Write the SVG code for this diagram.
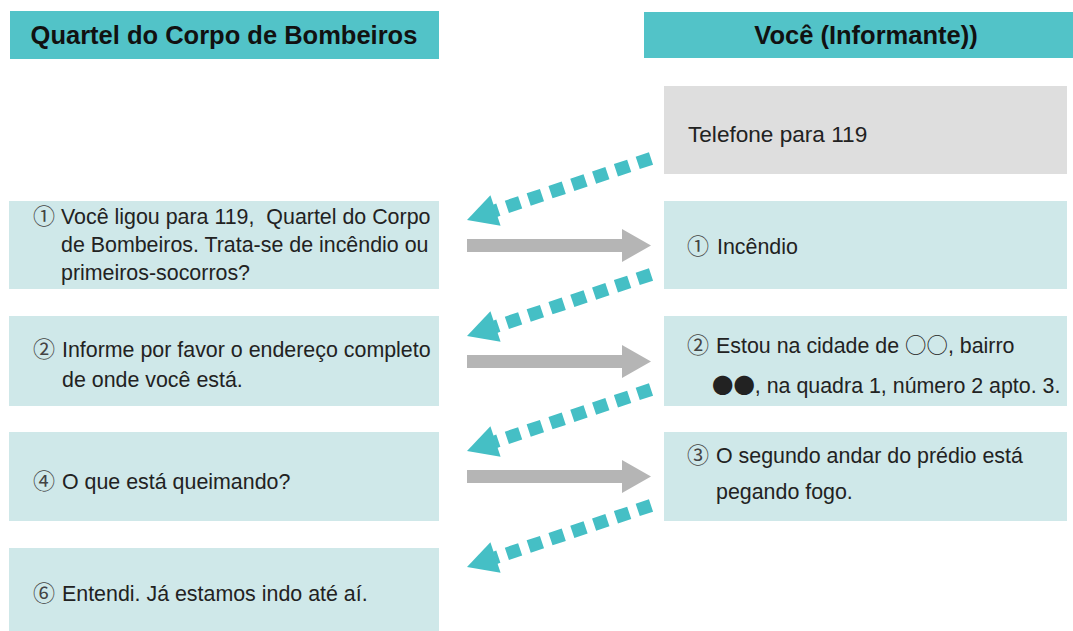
<svg xmlns="http://www.w3.org/2000/svg" width="1073" height="631" viewBox="0 0 1073 631">
<style>
.hdr{fill:#52c3c8}
.box{fill:#cfe8e9}
.gbox{fill:#dedede}
.ht{font-family:"Liberation Sans",Arial,sans-serif;font-size:25.5px;font-weight:bold;fill:#111;text-anchor:middle}
.t{font-family:"Liberation Sans",Arial,"Noto Sans CJK JP",sans-serif;font-size:21.4px;fill:#222}
.num{font-family:"Noto Sans CJK JP",sans-serif;font-size:22px;fill:#444}
.cjk{font-family:"Noto Sans CJK JP",sans-serif}
.dash{fill:none;stroke:#45bfc5;stroke-width:13;stroke-dasharray:14 9}
.dhead{fill:#45bfc5}
.gray{fill:#b5b5b5}
</style>
<defs>
<g id="darrow">
<path class="dash" d="M651,158.5 L495,210.8"/>
<polygon class="dhead" points="467,220 490.4,195.3 500.6,225.7"/>
</g>
<polygon id="garrow" class="gray" points="467,239 622,239 622,229 651,245.5 622,262 622,252 467,252"/>
</defs>
<rect width="1073" height="631" fill="#fff"/>
<g id="header-left">
<rect class="hdr" x="10" y="11" width="429" height="48"/>
<text class="ht" x="224" y="44">Quartel do Corpo de Bombeiros</text>
</g>
<g id="header-right">
<rect class="hdr" x="644" y="12" width="429" height="46"/>
<text class="ht" x="866" y="44">Você (Informante))</text>
</g>
<g id="phone">
<rect class="gbox" x="664" y="86" width="403" height="88"/>
<text class="t" x="688" y="142" style="font-size:22.6px">Telefone para 119</text>
</g>
<g id="left1">
<rect class="box" x="9" y="201" width="430" height="88"/>
<text class="num" x="33" y="224">①</text>
<text class="t"><tspan x="61" y="224">Você ligou para 119, &#160;Quartel do Corpo</tspan><tspan x="61" y="252">de Bombeiros. Trata-se de incêndio ou</tspan><tspan x="61" y="280">primeiros-socorros?</tspan></text>
</g>
<g id="right1">
<rect class="box" x="664" y="201" width="403" height="88"/>
<text class="num" x="687" y="254">①</text>
<text class="t" x="717" y="254">Incêndio</text>
</g>
<g id="left2">
<rect class="box" x="9" y="316" width="430" height="90"/>
<text class="num" x="33" y="357">②</text>
<text class="t"><tspan x="62" y="357">Informe por favor o endereço completo</tspan><tspan x="62" y="387">de onde você está.</tspan></text>
</g>
<g id="right2">
<rect class="box" x="664" y="316" width="403" height="90"/>
<text class="num" x="687" y="353">②</text>
<text class="t"><tspan x="716" y="353">Estou na cidade de <tspan class="cjk">○○</tspan>, bairro</tspan><tspan x="712" y="393"><tspan class="cjk">●●</tspan>, na quadra 1, número 2 apto. 3.</tspan></text>
</g>
<g id="left3">
<rect class="box" x="9" y="432" width="430" height="89"/>
<text class="num" x="33" y="489">④</text>
<text class="t" x="62" y="489">O que está queimando?</text>
</g>
<g id="right3">
<rect class="box" x="664" y="432" width="403" height="89"/>
<text class="num" x="687" y="463">③</text>
<text class="t"><tspan x="716" y="463">O segundo andar do prédio está</tspan><tspan x="716" y="499">pegando fogo.</tspan></text>
</g>
<g id="left4">
<rect class="box" x="9" y="548" width="430" height="83"/>
<text class="num" x="33" y="601">⑥</text>
<text class="t" x="62" y="601">Entendi. Já estamos indo até aí.</text>
</g>
<g id="connectors">
<use href="#darrow"/>
<use href="#darrow" y="116"/>
<use href="#darrow" y="231"/>
<use href="#darrow" y="347"/>
<use href="#garrow"/>
<use href="#garrow" y="116"/>
<use href="#garrow" y="231"/>
</g>
</svg>
